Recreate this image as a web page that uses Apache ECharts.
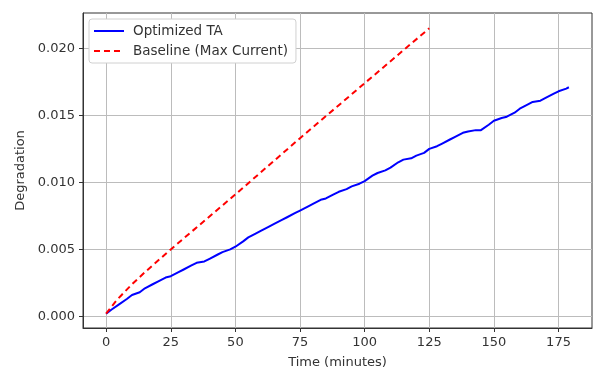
<!DOCTYPE html>
<html>
<head>
<meta charset="utf-8">
<script src="https://cdn.jsdelivr.net/npm/echarts@6/dist/echarts.min.js"></script>
<style>
  html, body { margin: 0; padding: 0; background: #fff; }
  #chart { width: 595px; height: 374px; }
</style>
</head>
<body>
<div id="chart"></div>
<script>
// 数据
const optTime = [0, 2, 5, 8, 10, 13, 15, 18, 20, 23, 25, 28, 30, 33, 35, 38, 40, 43, 45, 48,
  50, 53, 55, 58, 60, 63, 65, 68, 70, 73, 75, 78, 80, 83, 85, 88, 90, 93, 95, 98,
  100, 103, 105, 108, 110, 113, 115, 118, 120, 123, 125, 128, 130, 133, 135, 138, 140, 143, 145, 148,
  150, 153, 155, 158, 160, 163, 165, 168, 170, 173, 175, 178, 179]
const optValues = [0.0002, 0.0005, 0.0009, 0.0013, 0.0016, 0.0018, 0.0021, 0.0024, 0.0026, 0.0029,
  0.0030, 0.0033, 0.0035, 0.0038, 0.0040, 0.0041, 0.0043, 0.0046, 0.0048, 0.0050,
  0.0052, 0.0056, 0.0059, 0.0062, 0.0064, 0.0067, 0.0069, 0.0072, 0.0074, 0.0077,
  0.0079, 0.0082, 0.0084, 0.0087, 0.0088, 0.0091, 0.0093, 0.0095, 0.0097, 0.0099,
  0.0101, 0.0105, 0.0107, 0.0109, 0.0111, 0.0115, 0.0117, 0.0118, 0.0120, 0.0122,
  0.0125, 0.0127, 0.0129, 0.0132, 0.0134, 0.0137, 0.0138, 0.0139, 0.0139, 0.0143,
  0.0146, 0.0148, 0.0149, 0.0152, 0.0155, 0.0158, 0.0160, 0.0161, 0.0163, 0.0166,
  0.0168, 0.0170, 0.0171]

const baseTime = [0, 2, 4, 6, 10, 15, 25, 50, 75, 100, 125]
const baseValues = [0.0002, 0.0007, 0.0012, 0.0016, 0.0024, 0.0033, 0.0050, 0.0091, 0.0133, 0.0174, 0.0215]

const xTicks = [0, 25, 50, 75, 100, 125, 150, 175]
const yTicks = [0, 0.005, 0.010, 0.015, 0.020]

const chart = echarts.init(document.getElementById('chart'))

const labelFont = { fontFamily: 'DejaVu Sans', fontSize: 13, color: '#333' }

function pairs(xs, ys) {
  return xs.map((x, i) => [x, ys[i]])
}

chart.setOption({
  animation: false,
  textStyle: { fontFamily: 'DejaVu Sans' },
  grid: {
    left: 83, top: 13, right: 3, bottom: 43,
    show: true, borderColor: '#333', borderWidth: 1
  },
  legend: {
    orient: 'vertical',
    left: 89, top: 19,
    padding: [5, 8, 5, 4],
    itemGap: 6,
    itemWidth: 30, itemHeight: 14,
    backgroundColor: '#fff',
    borderColor: '#d0d0d0', borderWidth: 1, borderRadius: 3,
    itemStyle: { opacity: 0 },
    textStyle: { fontFamily: 'DejaVu Sans', fontSize: 13.5, color: '#333', padding: [0, 0, 0, 4] },
    data: ['Optimized TA', 'Baseline (Max Current)']
  },
  xAxis: {
    type: 'value',
    min: -8.95, max: 187.95,
    name: 'Time (minutes)',
    nameLocation: 'middle',
    nameGap: 28,
    nameTextStyle: labelFont,
    axisLine: { show: true, onZero: false, lineStyle: { color: '#333' } },
    axisTick: { show: true, length: 4, customValues: xTicks, lineStyle: { color: '#333' } },
    axisLabel: { ...labelFont, margin: 8, customValues: xTicks },
    splitLine: { show: true, lineStyle: { color: '#bcbcbc', width: 1 } }
  },
  yAxis: {
    type: 'value',
    min: -0.000865, max: 0.02264,
    name: 'Degradation',
    nameLocation: 'middle',
    nameGap: 54,
    nameTextStyle: labelFont,
    axisLine: { show: true, onZero: false, lineStyle: { color: '#333' } },
    axisTick: { show: true, length: 4, customValues: yTicks, lineStyle: { color: '#333' } },
    axisLabel: { ...labelFont, margin: 8, customValues: yTicks, formatter: v => v.toFixed(3) },
    splitLine: { show: true, lineStyle: { color: '#bcbcbc', width: 1 } }
  },
  series: [
    {
      name: 'Optimized TA',
      type: 'line',
      data: pairs(optTime, optValues),
      symbol: 'none',
      lineStyle: { color: '#0000ff', width: 2 },
      itemStyle: { color: '#0000ff' }
    },
    {
      name: 'Baseline (Max Current)',
      type: 'line',
      data: pairs(baseTime, baseValues),
      symbol: 'none',
      lineStyle: { color: '#ff0000', width: 2, type: [6, 4] },
      itemStyle: { color: '#ff0000' }
    }
  ]
})
</script>
</body>
</html>
